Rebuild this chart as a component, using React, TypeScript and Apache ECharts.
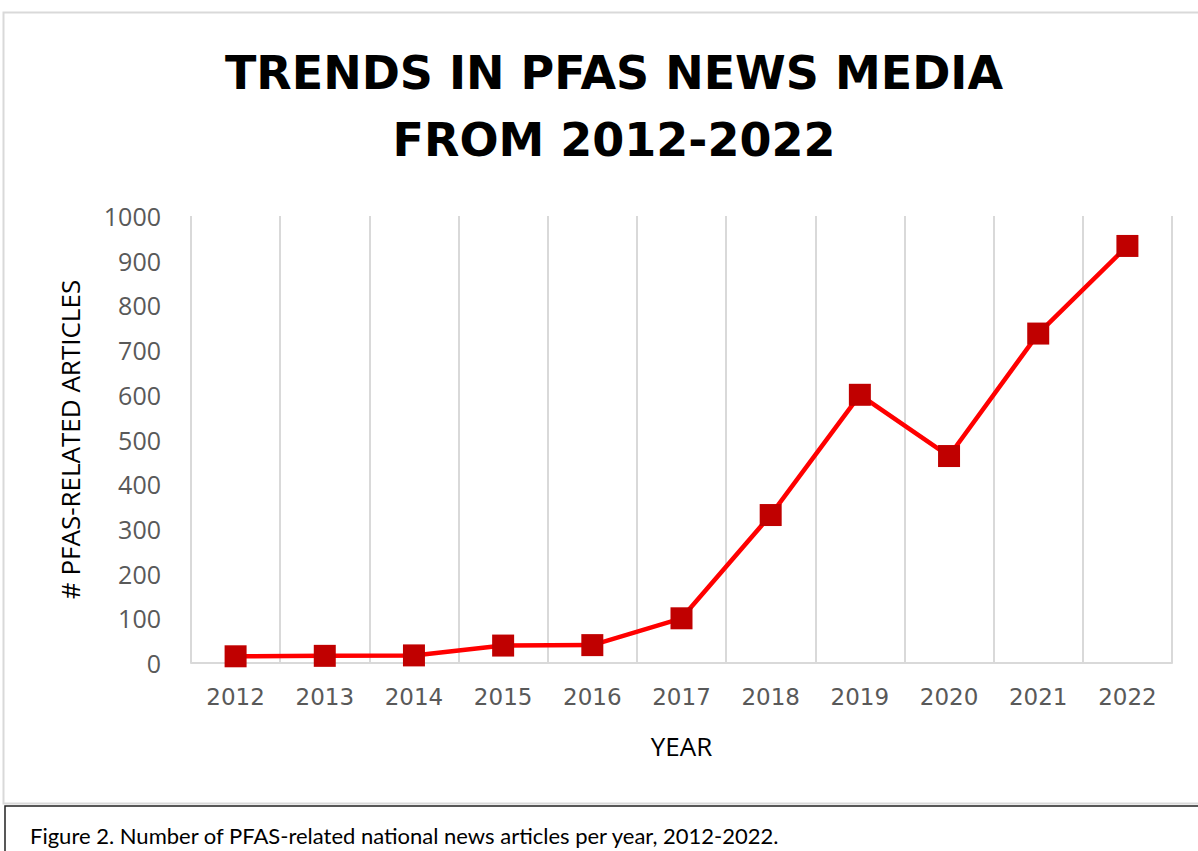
import React, { useEffect, useRef } from "react";
import * as echarts from "echarts";

const years = ["2012", "2013", "2014", "2015", "2016", "2017", "2018", "2019", "2020", "2021", "2022"];
const articles = [15, 16, 17, 39, 40, 100, 331, 600, 463, 737, 933];
const titleText = "TRENDS IN PFAS NEWS MEDIA\nFROM 2012-2022";
const yAxisName = "# PFAS-RELATED ARTICLES";
const xAxisName = "YEAR";
const captionText = "Figure 2. Number of PFAS-related national news articles per year, 2012-2022.";

export default function App() {
  const ref = useRef<HTMLDivElement>(null);
  useEffect(() => {
    if (!ref.current) return;
    const chart = echarts.init(ref.current, null, { renderer: "svg" });
    chart.setOption({
      animation: false,
      backgroundColor: "#ffffff",
      title: {
        text: titleText,
        left: 609,
        top: 34,
        textAlign: "center",
        textStyle: {
          fontFamily: "DejaVu Sans",
          fontWeight: "bold",
          fontSize: 46,
          lineHeight: 67,
          color: "#000000",
          align: "center",
        },
      },
      grid: { left: 191, right: 26, top: 216, bottom: 188 },
      xAxis: {
        type: "category",
        data: years,
        boundaryGap: true,
        name: xAxisName,
        nameLocation: "middle",
        nameGap: 70,
        nameTextStyle: { fontFamily: "Open Sans", fontSize: 26, color: "#000000" },
        axisLine: { show: true, lineStyle: { color: "#d9d9d9", width: 2 } },
        axisTick: { show: false },
        axisLabel: {
          margin: 22,
          fontFamily: "DejaVu Sans",
          fontSize: 23,
          color: "#595959",
        },
        splitLine: { show: true, lineStyle: { color: "#d9d9d9", width: 2 } },
      },
      yAxis: {
        type: "value",
        min: 0,
        max: 1000,
        interval: 100,
        name: yAxisName,
        nameLocation: "middle",
        nameRotate: 90,
        nameGap: 108,
        nameTextStyle: { fontFamily: "Open Sans", fontSize: 26, color: "#000000" },
        axisLine: { show: false },
        axisTick: { show: false },
        splitLine: { show: false },
        axisLabel: {
          margin: 30,
          fontFamily: "Open Sans",
          fontSize: 25,
          color: "#595959",
          formatter: (v: number) => String(v),
        },
      },
      series: [
        {
          type: "line",
          data: articles,
          symbol: "rect",
          symbolSize: 22,
          lineStyle: { color: "#ff0000", width: 4.5 },
          itemStyle: { color: "#c00000" },
        },
      ],
      graphic: [
        {
          type: "rect",
          shape: { x: 3.5, y: 12.5, width: 1200, height: 791 },
          style: { fill: "none", stroke: "#d9d9d9", lineWidth: 2 },
          silent: true,
          z: -10,
        },
        {
          type: "rect",
          shape: { x: 5, y: 806, width: 1200, height: 60 },
          style: { fill: "#ffffff", stroke: "#222222", lineWidth: 1.5 },
          silent: true,
        },
        {
          type: "text",
          x: 30,
          y: 835,
          style: {
            text: captionText,
            fontFamily: "Lato",
            fontSize: 22,
            fill: "#000000",
            textVerticalAlign: "middle",
          },
          silent: true,
        },
      ],
    });
    return () => chart.dispose();
  }, []);
  return <div ref={ref} style={{ position: "fixed", left: 0, top: 0, width: 1198, height: 851 }} />;
}
